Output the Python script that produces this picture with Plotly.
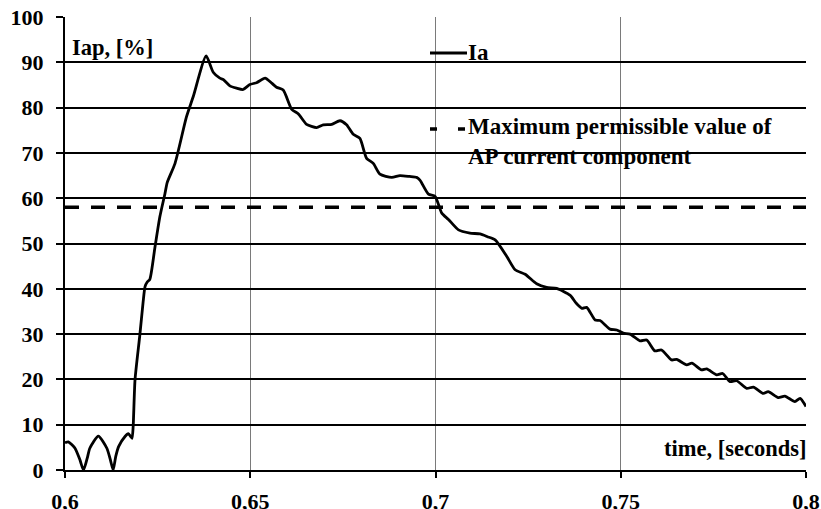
import plotly.graph_objects as go

# Ia curve: time [s] and value [%]
t_ia = [0.6000, 0.6009, 0.6027, 0.6040, 0.6050, 0.6060, 0.6067, 0.6090, 0.6113, 0.6122, 0.6130,
        0.6137, 0.6145, 0.6162, 0.6171, 0.6177, 0.6181, 0.6184, 0.6189, 0.6202, 0.6211,
        0.6216, 0.6222, 0.6229, 0.6243, 0.6256, 0.6270, 0.6276, 0.6297, 0.6328, 0.6346,
        0.6381, 0.6400, 0.6418, 0.6427, 0.6445, 0.6463, 0.6481, 0.6499, 0.6517, 0.6540,
        0.6558, 0.6571, 0.6589, 0.6612, 0.6630, 0.6652, 0.6679, 0.6697, 0.6720, 0.6742,
        0.6760, 0.6778, 0.6796, 0.6814, 0.6832, 0.6850, 0.6882, 0.6904, 0.6930, 0.6949,
        0.6958, 0.6981, 0.6999, 0.7017, 0.7035, 0.7062, 0.7093, 0.7120, 0.7140, 0.7161,
        0.7192, 0.7215, 0.7242, 0.7273, 0.7300, 0.7327, 0.7363, 0.7380, 0.7395, 0.7408,
        0.7431, 0.7444, 0.7471, 0.7489, 0.7507, 0.7525, 0.7552, 0.7570, 0.7592, 0.7610,
        0.7637, 0.7651, 0.7678, 0.7692, 0.7718, 0.7732, 0.7759, 0.7775, 0.7795, 0.7813,
        0.7840, 0.7858, 0.7885, 0.7898, 0.7925, 0.7943, 0.7970, 0.7984, 0.8000]
ia = [6.0, 6.2, 4.8, 2.3, 0.0, 2.6, 4.8, 7.5, 4.8, 2.4, 0.0,
      3.0, 5.2, 7.4, 8.0, 7.4, 7.0, 9.6, 19.9, 29.8, 37.2,
      40.5, 41.5, 42.1, 49.3, 55.9, 61.1, 63.5, 67.7, 78.0, 82.4,
      91.4, 87.8, 86.5, 86.2, 84.8, 84.3, 84.0, 85.1, 85.5, 86.5,
      85.4, 84.5, 83.9, 79.6, 78.6, 76.3, 75.6, 76.2, 76.3, 77.1,
      76.2, 74.1, 73.2, 68.8, 67.7, 65.3, 64.6, 65.0, 64.8, 64.6,
      64.0, 60.9, 60.4, 56.7, 55.3, 53.0, 52.3, 52.1, 51.5, 50.8,
      47.2, 44.2, 43.2, 41.1, 40.3, 40.1, 38.6, 36.8, 35.7, 35.9,
      33.1, 33.0, 31.1, 30.9, 30.2, 30.0, 28.5, 28.7, 26.3, 26.5,
      24.3, 24.4, 23.2, 23.6, 22.1, 22.3, 21.0, 21.3, 19.5, 19.7,
      18.0, 18.3, 16.9, 17.3, 16.0, 16.3, 15.1, 15.8, 14.0]

# Maximum permissible value of AP current component
t_max = [0.6, 0.8]
max_val = [58, 58]

x_ticks = [0.6, 0.65, 0.7, 0.75, 0.8]
y_ticks = [0, 10, 20, 30, 40, 50, 60, 70, 80, 90, 100]

SERIF = "Liberation Serif, Times New Roman, serif"

fig = go.Figure()
fig.add_trace(go.Scatter(x=t_max, y=max_val, mode="lines", name="Maximum permissible value",
                         line=dict(color="black", width=3.5, dash="14px,12px"),
                         showlegend=False, hoverinfo="skip"))
fig.add_trace(go.Scatter(x=t_ia, y=ia, mode="lines", name="Ia",
                         line=dict(color="black", width=2.8, shape="spline", smoothing=0.6),
                         showlegend=False))

L, R, T, B = 65, 15, 17, 39
W, H = 821, 509
pw, ph = W - L - R, H - T - B


def px(xp):
    return (xp - L) / pw


def py(yp):
    return (H - B - yp) / ph


tick_font = dict(family=SERIF, size=22, color="black", weight="bold")
txt_font = dict(family=SERIF, size=22.5, color="black", weight="bold")
leg_font = dict(family=SERIF, size=23, color="black", weight="bold")

fig.update_layout(
    width=W, height=H,
    margin=dict(l=L, r=R, t=T, b=B, pad=0, autoexpand=False),
    paper_bgcolor="white", plot_bgcolor="white",
    separators=", ",
    showlegend=False,
    xaxis=dict(range=[0.6, 0.8], tickvals=x_ticks, showgrid=True, gridcolor="#7a7a7a",
               gridwidth=1, showline=True, linecolor="black", linewidth=2,
               ticks="outside", ticklen=6, tickwidth=2, tickcolor="black",
               tickfont=tick_font, zeroline=False, ticklabelstandoff=5, automargin=False),
    yaxis=dict(range=[0, 100], tickvals=y_ticks, showgrid=True, gridcolor="black",
               gridwidth=2, showline=True, linecolor="black", linewidth=2,
               ticks="outside", ticklen=7, tickwidth=2, tickcolor="black",
               tickfont=tick_font, zeroline=False, ticklabelstandoff=8, automargin=False),
)

annotations = [
    dict(text="Iap, [%]", x=px(70), y=py(47), xanchor="left", yanchor="middle", font=txt_font),
    dict(text="time, [seconds]", x=px(808), y=py(448), xanchor="right", yanchor="middle", font=txt_font),
    dict(text="Ia", x=px(466), y=py(53), xanchor="left", yanchor="middle", font=leg_font),
    dict(text="Maximum permissible value of<br>AP current component", x=px(466), y=py(141),
         xanchor="left", yanchor="middle", align="left", font=leg_font),
]
for a in annotations:
    fig.add_annotation(xref="paper", yref="paper", showarrow=False, **a)

# legend keys
fig.add_shape(type="line", xref="paper", yref="paper", x0=px(430), x1=px(467), y0=py(53), y1=py(53),
              line=dict(color="black", width=3))
fig.add_shape(type="line", xref="paper", yref="paper", x0=px(430), x1=px(467), y0=py(129), y1=py(129),
              line=dict(color="black", width=3.5, dash="7px,21px"))

fig.write_html("out.html")
